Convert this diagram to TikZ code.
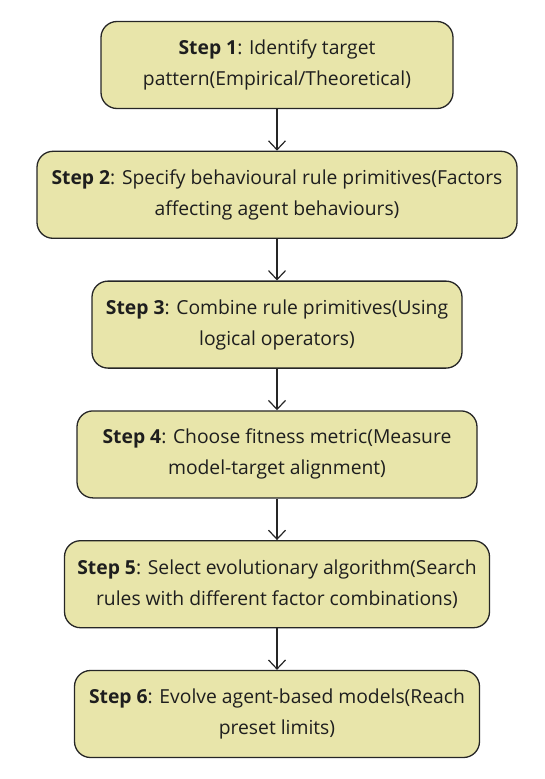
\documentclass[tikz,border=0pt]{standalone}
\usepackage{fontspec}
\setmainfont{Open Sans}
\usetikzlibrary{arrows.meta,positioning}
\definecolor{stepfill}{RGB}{232,229,170}
\definecolor{stepline}{RGB}{38,38,38}
\definecolor{steptext}{RGB}{30,30,30}

\begin{document}
\begin{tikzpicture}[x=1pt,y=-1pt,>={Straight Barb[length=9pt,width=17pt]},
  stepbox/.style={draw=stepline,fill=stepfill,line width=1.3pt,rounded corners=16pt,align=center,minimum height=87pt,inner sep=0pt,text=steptext,font=\fontsize{19.3}{31}\selectfont},
  link/.style={->,draw=stepline,line width=1.2pt},
  node distance=41.5pt]
\useasboundingbox (0,0) rectangle (544,779);
\node (s1) [stepbox,minimum width=352pt] at (277,65) {\textbf{Step 1}: Identify target\\pattern(Empirical/Theoretical)};
\node (s2) [stepbox,minimum width=480pt,below=of s1] {\textbf{Step 2}: Specify behavioural rule primitives(Factors\\affecting agent behaviours)};
\node (s3) [stepbox,minimum width=370pt,below=of s2] {\textbf{Step 3}: Combine rule primitives(Using\\logical operators)};
\node (s4) [stepbox,minimum width=400pt,below=of s3] {\textbf{Step 4}: Choose fitness metric(Measure\\model-target alignment)};
\node (s5) [stepbox,minimum width=425pt,below=of s4] {\textbf{Step 5}: Select evolutionary algorithm(Search\\rules with different factor combinations)};
\node (s6) [stepbox,minimum width=405pt,below=of s5] {\textbf{Step 6}: Evolve agent-based models(Reach\\preset limits)};
\foreach \a/\b in {s1/s2,s2/s3,s3/s4,s4/s5,s5/s6}
  \draw[link] (\a) -- (\b);
\end{tikzpicture}
\end{document}
